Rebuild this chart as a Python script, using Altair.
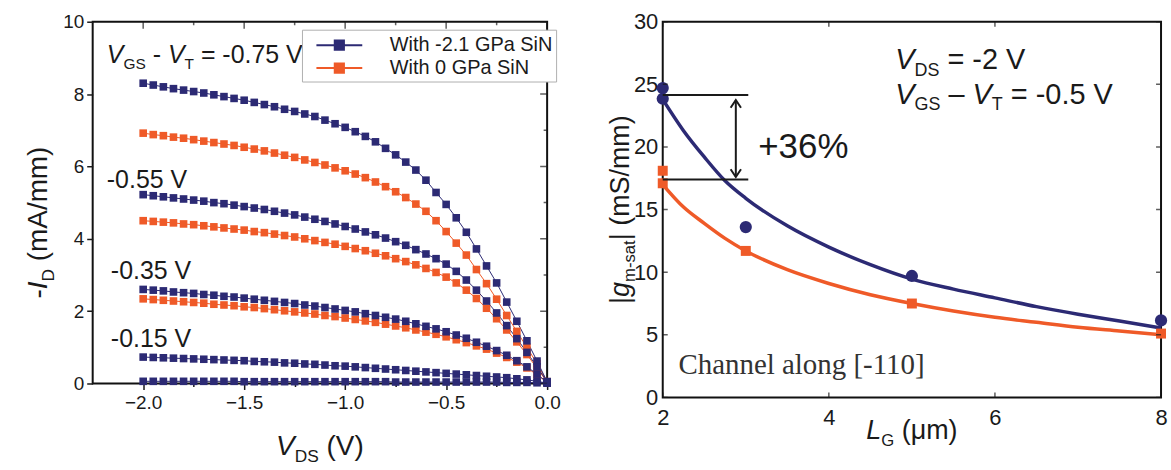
import altair as alt
import pandas as pd

FONT = "Liberation Sans"
SERIF = "Liberation Serif"
BLUE = "#2c2a74"
RED = "#ef5a28"
INK = "#1a1a1a"

# ---------------- left panel: -I_D vs V_DS ----------------
VDS = [-2.00, -1.95, -1.90, -1.85, -1.80, -1.75, -1.70, -1.65, -1.60, -1.55,
       -1.50, -1.45, -1.40, -1.35, -1.30, -1.25, -1.20, -1.15, -1.10, -1.05,
       -1.00, -0.95, -0.90, -0.85, -0.80, -0.75, -0.70, -0.65, -0.60, -0.55,
       -0.50, -0.45, -0.40, -0.35, -0.30, -0.25, -0.20, -0.15, -0.10, -0.05, 0.00]

SERIES = ["With -2.1 GPa SiN", "With 0 GPa SiN"]

blue_075 = [8.30, 8.25, 8.20, 8.15, 8.11, 8.07, 8.03, 7.98, 7.93, 7.88,
            7.83, 7.77, 7.71, 7.65, 7.58, 7.52, 7.45, 7.38, 7.28, 7.18,
            7.08, 6.96, 6.83, 6.68, 6.50, 6.32, 6.12, 5.90, 5.62, 5.28,
            4.95, 4.58, 4.18, 3.72, 3.25, 2.78, 2.25, 1.72, 1.18, 0.62, 0.05]
red_075 = [6.92, 6.88, 6.85, 6.81, 6.78, 6.74, 6.70, 6.66, 6.62, 6.58,
           6.53, 6.48, 6.43, 6.37, 6.31, 6.25, 6.18, 6.11, 6.04, 5.96,
           5.88, 5.79, 5.69, 5.57, 5.44, 5.30, 5.14, 4.96, 4.76, 4.50,
           4.20, 3.88, 3.55, 3.15, 2.76, 2.33, 1.88, 1.44, 1.00, 0.55, 0.05]
blue_055 = [5.22, 5.19, 5.16, 5.13, 5.10, 5.07, 5.04, 5.00, 4.97, 4.93,
            4.89, 4.85, 4.81, 4.76, 4.71, 4.66, 4.60, 4.54, 4.48, 4.41,
            4.34, 4.27, 4.19, 4.11, 4.02, 3.92, 3.82, 3.70, 3.58, 3.45,
            3.30, 3.10, 2.86, 2.58, 2.28, 1.95, 1.60, 1.24, 0.86, 0.46, 0.05]
red_055 = [4.50, 4.48, 4.46, 4.44, 4.41, 4.39, 4.36, 4.33, 4.30, 4.27,
           4.24, 4.20, 4.17, 4.13, 4.09, 4.05, 4.00, 3.95, 3.90, 3.85,
           3.79, 3.73, 3.67, 3.60, 3.53, 3.45, 3.37, 3.28, 3.18, 3.07,
           2.94, 2.78, 2.58, 2.35, 2.08, 1.79, 1.48, 1.15, 0.80, 0.42, 0.04]
blue_035 = [2.60, 2.58, 2.56, 2.53, 2.51, 2.49, 2.46, 2.44, 2.41, 2.39,
            2.36, 2.33, 2.30, 2.27, 2.24, 2.21, 2.17, 2.14, 2.10, 2.06,
            2.02, 1.98, 1.93, 1.88, 1.83, 1.78, 1.72, 1.65, 1.58, 1.51,
            1.43, 1.34, 1.25, 1.14, 1.03, 0.91, 0.78, 0.63, 0.46, 0.26, 0.03]
red_035 = [2.34, 2.32, 2.30, 2.28, 2.26, 2.24, 2.22, 2.19, 2.17, 2.15,
           2.12, 2.10, 2.07, 2.04, 2.01, 1.98, 1.95, 1.92, 1.88, 1.85,
           1.81, 1.77, 1.73, 1.69, 1.64, 1.59, 1.54, 1.48, 1.42, 1.36,
           1.29, 1.21, 1.13, 1.04, 0.95, 0.84, 0.72, 0.59, 0.43, 0.24, 0.03]
blue_015 = [0.73, 0.72, 0.71, 0.70, 0.69, 0.68, 0.67, 0.66, 0.65, 0.64,
            0.63, 0.61, 0.60, 0.59, 0.57, 0.56, 0.54, 0.53, 0.51, 0.49,
            0.48, 0.46, 0.44, 0.42, 0.40, 0.38, 0.36, 0.34, 0.32, 0.30,
            0.28, 0.26, 0.24, 0.22, 0.20, 0.18, 0.16, 0.13, 0.10, 0.06, 0.01]
blue_005 = [0.06, 0.06, 0.06, 0.06, 0.06, 0.06, 0.06, 0.06, 0.06, 0.06,
            0.05, 0.05, 0.05, 0.05, 0.05, 0.05, 0.05, 0.05, 0.05, 0.05,
            0.05, 0.05, 0.05, 0.05, 0.05, 0.04, 0.04, 0.04, 0.04, 0.04,
            0.04, 0.04, 0.04, 0.04, 0.04, 0.04, 0.03, 0.03, 0.03, 0.02, 0.01]

# drawing order: red first, blue on top
CURVES = [
    ("r075", SERIES[1], red_075), ("r055", SERIES[1], red_055), ("r035", SERIES[1], red_035),
    ("b075", SERIES[0], blue_075), ("b055", SERIES[0], blue_055), ("b035", SERIES[0], blue_035),
    ("b015", SERIES[0], blue_015), ("b005", SERIES[0], blue_005),
]

X_MAJOR = [-2.0, -1.5, -1.0, -0.5, 0.0]
X_MINOR = [-1.75, -1.25, -0.75, -0.25]
Y_MAJOR = [0, 2, 4, 6, 8, 10]
Y_MINOR = [1, 3, 5, 7, 9]

# ---------------- right panel: |gm-sat| vs L_G ----------------
LG_PTS = [2, 2, 3, 5, 8]
GM_BLUE_PTS = [24.7, 23.85, 13.6, 9.7, 6.15]
GM_RED_PTS = [18.1, 17.1, 11.7, 7.5, 5.1]
LG_FIT = [2.0, 2.25, 2.5, 2.75, 3.0, 3.5, 4.0, 4.5, 5.0, 5.5, 6.0, 6.5, 7.0, 7.5, 8.0]
GM_BLUE_FIT = [23.8, 21.3, 19.2, 17.3, 15.9, 13.7, 12.0, 10.6, 9.45, 8.65, 7.95, 7.25, 6.65, 6.1, 5.55]
GM_RED_FIT = [17.0, 15.2, 13.9, 12.7, 11.7, 10.2, 9.1, 8.2, 7.5, 6.9, 6.4, 6.0, 5.6, 5.3, 5.0]
BRACKET_Y = [24.15, 17.4]
BRACKET_X = [2.0, 3.03]
ARROW_X = 2.88
ARROW_Y = [23.75, 17.6]
RX_TICKS = [2, 4, 6, 8]
RY_TICKS = [0, 5, 10, 15, 20, 25, 30]

W1, H1 = 456, 363
W2, H2 = 500, 377

ONE = pd.DataFrame({"k": [0]})

CW = {' ': 278, '-': 333, '.': 278, '=': 584, '(': 333, ')': 333, '/': 278, '|': 260,
      '+': 584, '%': 889, '[': 278, ']': 278, '\u2013': 556, '\u03bc': 576,
      'A': 667, 'D': 722, 'G': 778, 'I': 278, 'L': 556, 'S': 667, 'T': 611, 'V': 667,
      'a': 556, 'g': 556, 'm': 833, 's': 500, 't': 278}


def tw(s, size):
    return sum(CW.get(c, 556) for c in s) * size / 1000.0


def rich(segs, x, y, size, angle=0, center=False, color=INK):
    """segments: (text, style) with style n / i / sub; leading/trailing blanks become offsets"""
    sizes = [size * 0.62 if st == "sub" else size for _, st in segs]
    widths = [tw(t, fs) for (t, _), fs in zip(segs, sizes)]
    off = -sum(widths) / 2 if center else 0.0
    out = []
    for (t, st), fs, w in zip(segs, sizes, widths):
        lead = len(t) - len(t.lstrip(" "))
        body = t.strip(" ")
        if body:
            out.append(
                alt.Chart(ONE).mark_text(
                    text=body, font=FONT, fontSize=fs,
                    fontStyle="italic" if st == "i" else "normal",
                    align="left", baseline="alphabetic", angle=angle,
                    dx=off + tw(" " * lead, fs), dy=size * 0.24 if st == "sub" else 0, color=color,
                ).encode(x=x, y=y)
            )
        off += w
    return out


# ---------- left chart ----------
rows = []
for cid, ser, vals in CURVES:
    for v, i in zip(VDS, vals):
        rows.append({"curve": cid, "series": ser, "V": v, "I": i})
df_left = pd.DataFrame(rows)

xs_l = alt.Scale(domain=[-2.25, 0.0], nice=False, zero=False)
ys_l = alt.Scale(domain=[0, 10], nice=False, zero=False)
col_scale = alt.Scale(domain=SERIES, range=[BLUE, RED])

# legend symbol: a line with a square on it, wider than its nominal box
LEG_PATH = "M-2,0H2M-0.4,-0.4H0.4V0.4H-0.4Z"
leg = alt.Legend(
    title=None, orient="none", legendX=210, legendY=8,
    symbolType=LEG_PATH, symbolSize=529, symbolStrokeWidth=2, symbolOffset=22,
    labelFont=FONT, labelFontSize=20, labelColor=INK, labelOffset=38, labelLimit=400,
    strokeColor="#b0b0b0", fillColor="white", padding=3, rowPadding=0,
    symbolOpacity=1,
)

x_axis_l = alt.Axis(
    values=sorted(X_MAJOR + X_MINOR), title=None, grid=False, domain=False,
    labelExpr="abs(datum.value*2 - round(datum.value*2)) < 0.01 ? format(datum.value, '.1f') : ''",
    tickSize={"condition": {"test": "abs(datum.value*2 - round(datum.value*2)) > 0.01", "value": 3}, "value": 6},
    tickColor=INK, tickWidth=1.5, labelFont=FONT, labelFontSize=19, labelColor=INK,
    labelPadding=4, labelFlush=False,
)
y_axis_l = alt.Axis(
    values=sorted(Y_MAJOR + Y_MINOR), title=None, grid=False, domain=False,
    labelExpr="datum.value % 2 == 0 ? datum.label : ''",
    tickSize={"condition": {"test": "datum.value % 2 != 0", "value": 3}, "value": 6},
    tickColor=INK, tickWidth=1.5, labelFont=FONT, labelFontSize=19, labelColor=INK,
    labelPadding=3,
)

XL = alt.X("V:Q", scale=xs_l, axis=x_axis_l)
YL = alt.Y("I:Q", scale=ys_l, axis=y_axis_l)

lines_l = alt.Chart(df_left).mark_line(strokeWidth=1).encode(
    x=XL, y=YL,
    stroke=alt.Stroke("series:N", scale=col_scale, legend=leg),
    detail="curve:N",
)
pts_l = alt.Chart(df_left).mark_point(shape="square", filled=True, size=58, opacity=1).encode(
    x=XL, y=YL,
    fill=alt.Fill("series:N", scale=col_scale, legend=leg),
)

top_major = pd.DataFrame({"V": X_MAJOR, "I": [10] * len(X_MAJOR)})
top_minor = pd.DataFrame({"V": X_MINOR, "I": [10] * len(X_MINOR)})
right_major = pd.DataFrame({"V": [0.0] * len(Y_MAJOR), "I": Y_MAJOR})
right_minor = pd.DataFrame({"V": [0.0] * len(Y_MINOR), "I": Y_MINOR})


def tick_layer(df, X, Y, orient, size):
    return alt.Chart(df).mark_tick(orient=orient, size=size, thickness=1.5, color=INK, clip=True).encode(
        x=X, y=Y)


ticks_l = [
    tick_layer(top_major, XL, YL, "vertical", 14),
    tick_layer(top_minor, XL, YL, "vertical", 7),
    tick_layer(right_major, XL, YL, "horizontal", 14),
    tick_layer(right_minor, XL, YL, "horizontal", 7),
]

ann_l = []
ann_l += rich([("V", "i"), ("GS", "sub"), (" - ", "n"), ("V", "i"), ("T", "sub"), (" = -0.75 V", "n")],
              alt.datum(-2.18), alt.datum(8.86), 25)
ann_l += rich([("-0.55 V", "n")], alt.datum(-2.18), alt.datum(5.39), 25)
ann_l += rich([("-0.35 V", "n")], alt.datum(-2.16), alt.datum(2.88), 25)
ann_l += rich([("-0.15 V", "n")], alt.datum(-2.16), alt.datum(1.0), 25)
# axis titles
ann_l += rich([("-", "n"), ("I", "i"), ("D", "sub"), (" (mA/mm)", "n")],
              alt.value(-46), alt.value(H1 / 2 + 20), 28, angle=270, center=True)
ann_l += rich([("V", "i"), ("DS", "sub"), (" (V)", "n")],
              alt.value(W1 / 2), alt.value(H1 + 72), 28, center=True)

left = alt.layer(lines_l, pts_l, *ticks_l, *ann_l).properties(width=W1, height=H1)

# ---------- right chart ----------
xs_r = alt.Scale(domain=[2, 8], nice=False, zero=False)
ys_r = alt.Scale(domain=[0, 30], nice=False, zero=False)

df_fit = pd.DataFrame({"L": LG_FIT, "blue": GM_BLUE_FIT, "red": GM_RED_FIT})
df_pts = pd.DataFrame({"L": LG_PTS, "blue": GM_BLUE_PTS, "red": GM_RED_PTS})

x_axis_r = alt.Axis(values=RX_TICKS, format="d", title=None, grid=False, domain=False, ticks=False,
                    labelFont=FONT, labelFontSize=22, labelColor=INK, labelPadding=10, labelFlush=False)
y_axis_r = alt.Axis(values=RY_TICKS, format="d", title=None, grid=False, domain=False, ticks=False,
                    labelFont=FONT, labelFontSize=22, labelColor=INK, labelPadding=5)


def XR(f="L"):
    return alt.X(f"{f}:Q", scale=xs_r, axis=x_axis_r)


def YR(f):
    return alt.Y(f"{f}:Q", scale=ys_r, axis=y_axis_r)


fit_red = alt.Chart(df_fit).mark_line(color=RED, strokeWidth=3.5, interpolate="monotone").encode(
    x=XR(), y=YR("red"))
fit_blue = alt.Chart(df_fit).mark_line(color=BLUE, strokeWidth=3.5, interpolate="monotone").encode(
    x=XR(), y=YR("blue"))
pts_red = alt.Chart(df_pts).mark_square(color=RED, size=100, opacity=1).encode(
    x=XR(), y=YR("red"))
pts_blue = alt.Chart(df_pts).mark_circle(color=BLUE, size=150, opacity=1).encode(
    x=XR(), y=YR("blue"))

df_br = pd.DataFrame({"L": [BRACKET_X[0]] * 2, "x2": [BRACKET_X[1]] * 2, "y": BRACKET_Y})
bracket = alt.Chart(df_br).mark_rule(color=INK, strokeWidth=2).encode(
    x=XR(), x2="x2:Q", y=YR("y"))
df_ar = pd.DataFrame({"L": [ARROW_X], "y": [ARROW_Y[0]], "y2": [ARROW_Y[1]]})
arrow = alt.Chart(df_ar).mark_rule(color=INK, strokeWidth=2).encode(
    x=XR(), y=YR("y"), y2="y2:Q")
head_up = alt.Chart(pd.DataFrame({"L": [ARROW_X], "y": [ARROW_Y[0]]})).mark_point(
    shape="M-0.6,0.9L0,0L0.6,0.9", size=300, filled=False, color=INK, strokeWidth=2, opacity=1).encode(
    x=XR(), y=YR("y"))
head_dn = alt.Chart(pd.DataFrame({"L": [ARROW_X], "y": [ARROW_Y[1]]})).mark_point(
    shape="M-0.6,-0.9L0,0L0.6,-0.9", size=300, filled=False, color=INK, strokeWidth=2, opacity=1).encode(
    x=XR(), y=YR("y"))

ticks_r = [
    tick_layer(pd.DataFrame({"L": RX_TICKS, "y": [0] * 4}), XR(), YR("y"), "vertical", 10),
    tick_layer(pd.DataFrame({"L": RX_TICKS, "y": [30] * 4}), XR(), YR("y"), "vertical", 10),
    tick_layer(pd.DataFrame({"L": [2] * 7, "y": RY_TICKS}), XR(), YR("y"), "horizontal", 10),
    tick_layer(pd.DataFrame({"L": [8] * 7, "y": RY_TICKS}), XR(), YR("y"), "horizontal", 10),
]

ann_r = []
ann_r += rich([("V", "i"), ("DS", "sub"), (" = -2 V", "n")], alt.datum(4.8), alt.datum(26.25), 29)
ann_r += rich([("V", "i"), ("GS", "sub"), (" \u2013 ", "n"), ("V", "i"), ("T", "sub"), (" = -0.5 V", "n")],
              alt.datum(4.8), alt.datum(23.47), 29)
ann_r += rich([("+36%", "n")], alt.datum(3.15), alt.datum(19.1), 35)
ann_r.append(alt.Chart(ONE).mark_text(
    text="Channel along [-110]", font=SERIF, fontSize=29, align="left", baseline="alphabetic", color="#333"
).encode(x=alt.datum(2.19), y=alt.datum(1.9)))
ann_r += rich([("|", "n"), ("g", "i"), ("m-sat", "sub"), ("| (mS/mm)", "n")],
              alt.value(-34), alt.value(H2 / 2), 27, angle=270, center=True)
ann_r += rich([("L", "i"), ("G", "sub"), (" (\u03bcm)", "n")],
              alt.value(W2 / 2), alt.value(H2 + 42), 27, center=True)

right = alt.layer(fit_red, fit_blue, pts_red, pts_blue, bracket, arrow, head_up, head_dn,
                  *ticks_r, *ann_r).properties(width=W2, height=H2)

chart = alt.hconcat(left, right, spacing=44).resolve_scale(
    x="independent", y="independent", stroke="independent", fill="independent"
).resolve_legend(stroke="independent", fill="independent").properties(
    padding={"left": 24, "top": 9, "right": 2, "bottom": 0}, background="white"
).configure_view(stroke="#111", strokeWidth=2)

chart.save("out.html", embed_options={"renderer": "svg", "actions": False})
